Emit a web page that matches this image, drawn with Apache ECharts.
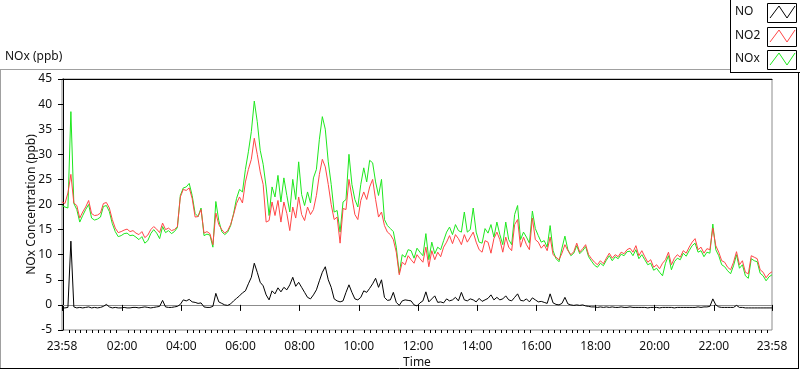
<!DOCTYPE html>
<html><head><meta charset="utf-8">
<script src="https://cdn.jsdelivr.net/npm/echarts@6/dist/echarts.min.js"></script>
<style>html,body{margin:0;padding:0;background:#fff;overflow:hidden}#c{width:800px;height:369px}</style>
</head><body><div id="c"></div>
<script>
// ---- data ----
const seriesNames = ['NO', 'NO2', 'NOx'];
const firstMinute = -2;      // 23:58 of the previous day
const sampleMinutes = 6;     // one sample every 6 minutes
const tickMinutes = [-2, 120, 240, 360, 480, 600, 720, 840, 960, 1080, 1200, 1320, 1438];
const tickLabels = ['23:58', '02:00', '04:00', '06:00', '08:00', '10:00', '12:00', '14:00', '16:00', '18:00', '20:00', '22:00', '23:58'];

const NO = [
  -0.6,-0.6,-0.5,12.7,-0.4,-0.6,-0.5,-0.6,-0.5,-0.4, -0.6,-0.5,-0.6,-0.5,-0.3,0.1,-0.4,-0.6,-0.5,-0.6,
  -0.6,-0.5,-0.6,-0.6,-0.5,-0.5,-0.6,-0.5,-0.4,-0.5, -0.6,-0.5,-0.4,-0.3,0.9,-0.4,-0.5,-0.5,-0.4,-0.3,
  0.1,1.0,0.8,1.1,0.6,0.5,0.3,0.4,
  -0.4,-0.5,-0.5,-0.3,2.3,0.6,0.3,0.0,-0.1,0.2, 0.8,1.3,1.8,2.4,2.8,4.2,5.5,8.3,6.5,4.5,
  3.8,2.0,1.0,2.8,2.2,3.4,2.6,3.5,3.0,4.0, 5.5,3.7,4.5,3.5,2.5,1.5,1.2,2.0,3.0,4.8,
  6.5,7.6,5.0,3.5,1.2,0.8,0.6,0.8,
  2.5,4.0,2.5,1.2,1.0,1.5,2.8,2.5,3.3,4.2, 5.3,3.5,5.0,1.5,0.9,1.0,2.5,0.5,-0.1,0.8,
  1.0,0.9,0.8,0.0,-0.2,0.4,0.8,2.6,0.6,1.2, 1.8,0.5,0.6,0.4,1.2,0.8,1.0,1.5,0.8,2.5,
  1.0,0.8,1.2,1.0,0.6,1.3,0.7,1.0,
  1.3,2.0,1.0,1.5,1.0,1.2,1.8,1.0,0.8,1.5, 2.2,0.9,0.8,1.2,0.6,1.4,1.0,0.6,0.7,0.5,
  0.3,2.2,0.4,0.1,0.0,0.3,1.5,0.2,0.0,-0.1, 0.0,-0.1,0.0,-0.2,-0.3,-0.4,-0.4,-0.5,-0.4,-0.5,
  -0.4,-0.5,-0.4,-0.5,-0.5,-0.4,-0.5,-0.5,
  -0.4,-0.5,-0.5,-0.5,-0.5,-0.5,-0.6,-0.5,-0.5,-0.5, -0.6,-0.5,-0.5,-0.5,-0.5,-0.6,-0.5,-0.5,-0.5,-0.5,
  -0.5,-0.5,-0.5,-0.4,-0.5,-0.4,-0.4,-0.3,1.2,0.0, -0.4,-0.5,-0.5,-0.5,-0.5,-0.5,-0.1,-0.5,-0.5,-0.6,
  -0.6,-0.6,-0.6,-0.6,-0.6,-0.6,-0.6,-0.6,-0.6
];

const NO2 = [
  20.5,20.2,22.3,26.0,20.3,19.8,17.3,18.5,19.5,20.8, 18.2,17.8,17.9,18.3,20.2,20.4,19.3,17.0,15.3,14.4,
  14.6,14.9,15.1,14.6,14.8,14.3,14.0,14.6,13.4,13.9, 15.0,15.6,15.1,14.4,16.3,15.0,15.3,14.8,15.0,15.6,
  21.5,23.0,22.8,23.3,21.2,17.5,17.6,19.0,
  14.3,14.6,14.2,12.0,18.3,16.0,15.0,14.3,14.8,16.0, 18.0,20.2,21.5,20.3,24.5,27.0,29.0,33.2,30.0,26.5,
  24.0,16.5,16.8,20.5,17.8,20.8,16.5,20.5,18.2,14.8, 19.5,17.3,21.5,18.0,16.8,19.5,18.0,19.0,21.8,26.0,
  29.0,27.5,24.0,20.0,17.0,17.5,12.3,19.2,
  19.0,25.0,21.5,18.0,17.0,20.8,22.5,21.0,23.5,25.0, 21.0,17.5,18.5,15.8,14.5,14.0,13.0,10.5,6.0,8.5,
  8.0,9.8,9.0,8.3,10.0,9.2,8.5,11.5,7.6,10.8, 9.0,10.5,9.6,11.5,12.5,13.8,12.2,14.0,13.2,12.0,
  14.0,12.5,13.5,14.5,12.5,11.0,10.5,12.8,
  12.5,10.3,13.2,14.5,13.0,10.5,13.5,11.5,10.8,16.0, 17.0,11.5,13.5,12.0,11.0,17.3,13.0,12.5,11.3,12.0,
  10.8,13.5,10.0,9.5,9.0,10.3,12.0,10.8,10.0,10.6, 12.3,10.5,11.2,12.0,10.0,9.2,8.5,8.0,8.8,8.2,
  9.3,10.3,9.3,10.0,9.6,10.5,10.2,11.0,
  11.3,10.5,11.8,9.8,10.8,9.6,8.5,9.0,7.5,8.0, 7.2,8.3,9.0,10.5,8.0,9.3,10.0,9.5,10.8,10.3,
  11.5,12.5,13.2,11.0,11.5,10.3,11.2,11.0,15.3,11.8, 10.5,8.8,8.5,7.5,7.0,8.5,10.6,8.0,8.8,6.5,
  6.2,9.8,9.5,9.2,7.0,6.5,5.4,6.2,6.6
];

const NOx = [
  19.8,19.5,19.3,38.5,20.2,19.0,16.5,17.8,19.0,20.0, 17.3,16.9,17.1,17.5,19.6,19.8,18.6,16.2,14.6,13.6,
  13.8,14.2,14.3,13.8,13.9,13.5,13.0,13.6,12.3,12.8, 14.2,15.0,14.3,13.2,15.6,14.4,14.8,14.2,14.6,15.4,
  21.8,23.3,23.5,24.2,21.8,18.2,17.6,19.3,
  13.8,14.1,13.9,11.5,20.6,16.8,14.6,14.0,14.5,15.8, 18.2,21.2,23.0,22.5,27.0,30.5,34.5,40.6,36.5,30.8,
  28.0,23.5,17.8,23.5,21.5,25.8,20.5,25.3,21.8,18.5, 25.0,21.0,28.5,22.0,19.8,22.5,20.3,25.3,27.0,33.0,
  37.5,35.0,28.5,24.0,18.5,18.8,14.5,20.5,
  21.0,30.0,24.0,21.0,19.5,24.0,27.3,24.5,28.8,28.3, 24.5,21.8,25.0,17.0,15.8,15.2,14.6,11.5,6.3,10.0,
  9.5,11.0,10.8,9.3,11.3,10.5,9.8,14.2,9.0,12.5, 10.2,11.5,11.0,12.8,14.5,15.5,14.0,16.0,14.8,14.5,
  18.5,14.5,15.0,19.3,14.5,12.5,12.3,15.2,
  14.3,16.0,13.5,16.5,14.0,12.0,16.5,13.0,12.0,18.0, 19.8,13.0,14.5,13.5,12.3,18.7,15.2,13.8,12.5,12.8,
  11.5,15.8,10.8,9.2,8.6,11.3,13.7,11.0,9.8,10.3, 11.8,10.2,10.8,11.6,9.6,8.7,7.9,7.5,8.3,7.8,
  8.9,9.8,8.8,9.6,9.2,10.1,9.8,10.6,
  10.7,9.8,11.0,9.2,10.0,9.0,8.0,8.3,6.9,7.3, 6.5,5.8,8.3,9.8,7.0,8.6,9.3,9.0,10.3,9.7,
  10.8,11.8,12.3,10.5,10.8,9.6,10.5,10.3,16.1,11.0, 9.8,8.0,7.6,6.8,6.2,7.8,10.0,7.3,8.0,5.8,
  5.3,9.2,8.8,8.6,6.3,5.8,4.8,5.6,6.0
];

// ---- chart ----
const FONT = 'Noto Sans';
const TXT = '#111';
const colors = { NO: '#000000', NO2: '#ff4646', NOx: '#1ee81e' };
const xMin = tickMinutes[0], xMax = tickMinutes[tickMinutes.length - 1];
const minorTicks = [];
for (let m = 12; m < xMax; m += 12) {
  if (tickMinutes.every(t => Math.abs(t - m) > 3)) minorTicks.push(m);
}
const pairs = arr => arr.map((v, i) => [firstMinute + i * sampleMinutes, v]);
const labelFor = v => {
  const k = tickMinutes.findIndex(t => Math.abs(t - v) < 0.5);
  return k >= 0 ? tickLabels[k] : '';
};
const lineSeries = (name, data, z) => ({
  name, type: 'line', data: pairs(data), showSymbol: false, symbol: 'none',
  lineStyle: { color: colors[name], width: 1 }, itemStyle: { color: colors[name] },
  z, animation: false, silent: true
});

const legendRows = [
  { name: seriesNames[0], y: 3 },
  { name: seriesNames[1], y: 27 },
  { name: seriesNames[2], y: 50 }
];
const legendGraphics = [];
legendRows.forEach(r => {
  legendGraphics.push({ type: 'text', left: 735, top: r.y + 3,
    style: { text: r.name, fill: TXT, font: '12px "' + FONT + '"' } });
  legendGraphics.push({ type: 'rect', shape: { x: 767.5, y: r.y + 0.5, width: 29, height: 19 },
    style: { fill: '#fff', stroke: '#000', lineWidth: 1 } });
  legendGraphics.push({ type: 'polyline',
    shape: { points: [[770, r.y + 15], [779, r.y + 3], [787, r.y + 15], [795, r.y + 3]] },
    style: { stroke: colors[r.name], lineWidth: 1, fill: null } });
});

const chart = echarts.init(document.getElementById('c'), null, { renderer: 'canvas' });
chart.setOption({
  animation: false,
  backgroundColor: '#fff',
  textStyle: { fontFamily: FONT },
  grid: { left: 62, right: 28, top: 79, bottom: 39, show: true, borderColor: '#8c8c8c', borderWidth: 1,
          backgroundColor: '#fff', containLabel: false, outerBoundsMode: 'none' },
  xAxis: [
    {
      type: 'value', min: xMin, max: xMax, position: 'bottom',
      axisLine: { show: true, lineStyle: { color: '#8c8c8c', width: 1 } },
      axisTick: { show: true, customValues: tickMinutes, length: 6, lineStyle: { color: '#000' } },
      axisLabel: { show: true, customValues: tickMinutes, formatter: labelFor, color: TXT, fontFamily: FONT, fontSize: 12, margin: 11 },
      splitLine: { show: false },
      name: 'Time', nameLocation: 'middle', nameGap: 27, nameMoveOverlap: false,
      nameTextStyle: { color: TXT, fontFamily: FONT, fontSize: 12 }
    },
    {
      type: 'value', min: xMin, max: xMax, position: 'top',
      axisLine: { show: true, lineStyle: { color: '#000', width: 1 } },
      axisTick: { show: false }, axisLabel: { show: false }, splitLine: { show: false }
    },
    {
      type: 'value', min: xMin, max: xMax, position: 'bottom',
      axisLine: { show: false },
      axisTick: { show: true, customValues: minorTicks, length: 3, lineStyle: { color: '#000' } },
      axisLabel: { show: false }, splitLine: { show: false }
    }
  ],
  yAxis: {
    type: 'value', min: -5, max: 45, interval: 5,
    axisLine: { show: true, lineStyle: { color: '#000', width: 1 } },
    axisTick: { show: true, length: 5, lineStyle: { color: '#000' } },
    axisLabel: { color: TXT, fontFamily: FONT, fontSize: 12, margin: 10 },
    splitLine: { show: false },
    name: 'NOx Concentration (ppb)', nameLocation: 'middle', nameGap: 24, nameRotate: 90, nameMoveOverlap: false,
    nameTextStyle: { color: TXT, fontFamily: FONT, fontSize: 12 }
  },
  graphic: [
    { type: 'line', shape: { x1: 0, y1: 69.5, x2: 730, y2: 69.5 }, style: { stroke: '#a0a0a0', lineWidth: 1 } },
    { type: 'line', shape: { x1: 0.5, y1: 69, x2: 0.5, y2: 368 }, style: { stroke: '#a0a0a0', lineWidth: 1 } },
    { type: 'line', shape: { x1: 0, y1: 368.5, x2: 799, y2: 368.5 }, style: { stroke: '#000', lineWidth: 1 } },
    { type: 'line', shape: { x1: 798.5, y1: 72, x2: 798.5, y2: 369 }, style: { stroke: '#000', lineWidth: 1 } },
    { type: 'line', shape: { x1: 730.5, y1: 0, x2: 730.5, y2: 73 }, style: { stroke: '#000', lineWidth: 1 } },
    { type: 'line', shape: { x1: 730, y1: 72.5, x2: 800, y2: 72.5 }, style: { stroke: '#000', lineWidth: 1 } },
    { type: 'text', left: 5, top: 51, style: { text: 'NOx (ppb)', fill: TXT, font: '12px "' + FONT + '"' } }
  ].concat(legendGraphics),
  series: [
    lineSeries('NOx', NOx, 2),
    lineSeries('NO2', NO2, 3),
    lineSeries('NO', NO, 4)
  ]
});
</script>
</body></html>
